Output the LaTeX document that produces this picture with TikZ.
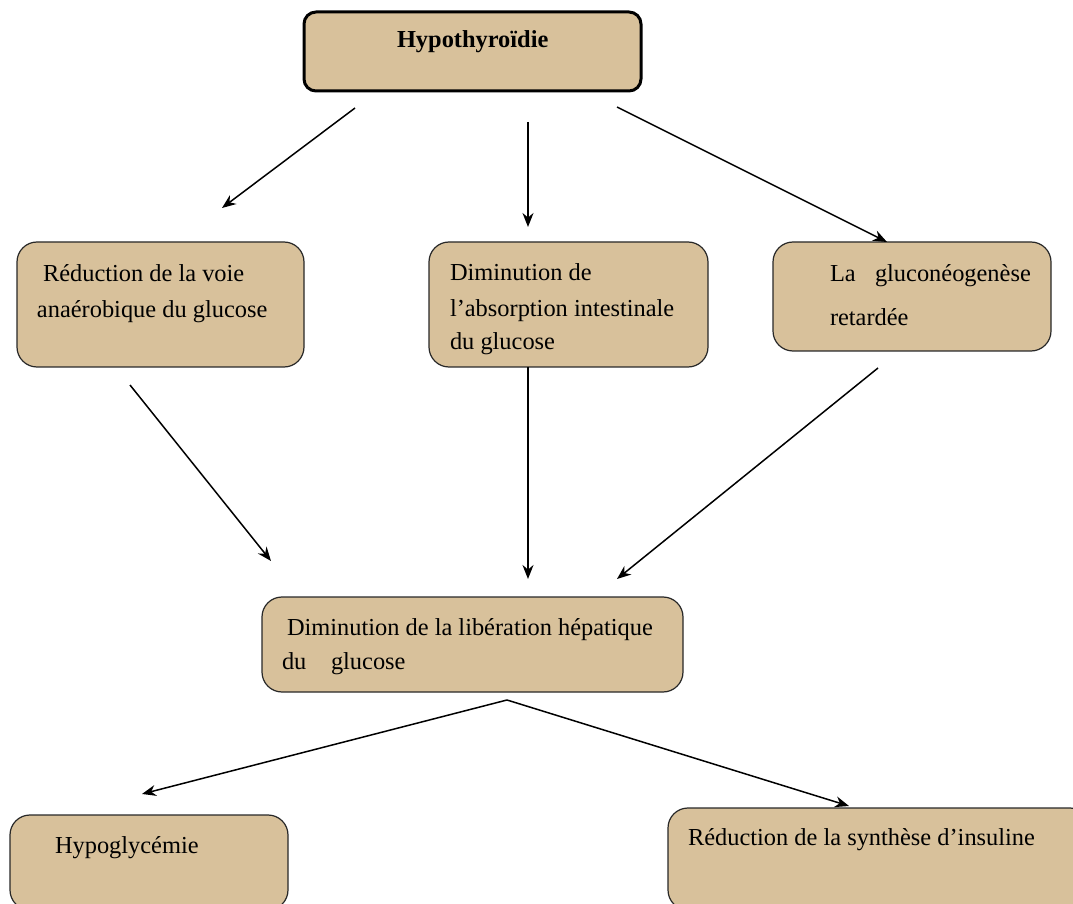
\documentclass[tikz,border=0pt]{standalone}
\usepackage{fontspec}
\setmainfont{Liberation Serif}
\usetikzlibrary{arrows.meta}
\definecolor{boxfill}{RGB}{216,193,155}
\definecolor{boxline}{RGB}{40,40,40}
\tikzset{
  box/.style={draw=boxline, line width=0.6pt, fill=boxfill, rounded corners=10pt, inner sep=0pt, outer sep=0pt},
  titlebox/.style={draw=black, line width=1.5pt, fill=boxfill, rounded corners=6pt, inner sep=0pt, outer sep=0pt},
  lbl/.style={anchor=base west, inner sep=0pt, outer sep=0pt, font=\fontsize{12.2pt}{14pt}\selectfont},
  conn/.style={line width=0.75pt, -{Stealth[length=7pt,width=5.5pt]}}
}
\begin{document}
\begin{tikzpicture}[x=0.5pt,y=-0.5pt]
\useasboundingbox (0,0) rectangle (1073,904);
\clip (0,0) rectangle (1073,904);
\fill[white] (0,0) rectangle (1073,904);
% boxes
\node[titlebox, minimum width=0.5pt*337, minimum height=0.5pt*79] (top) at (472.5,51.5) {};
\node[box, minimum width=0.5pt*287, minimum height=0.5pt*125] (A) at (160.5,304.5) {};
\node[box, minimum width=0.5pt*279, minimum height=0.5pt*125] (B) at (568.5,304.5) {};
\node[box, minimum width=0.5pt*278, minimum height=0.5pt*109] (C) at (912,296.5) {};
\node[box, minimum width=0.5pt*421, minimum height=0.5pt*95] (D) at (472.5,644.5) {};
\node[box, minimum width=0.5pt*278, minimum height=0.5pt*95] (E) at (149,862.5) {};
\node[box, minimum width=0.5pt*422, minimum height=0.5pt*102] (F) at (879,859) {};
% labels
\node[lbl, font=\fontsize{12.2pt}{14pt}\selectfont\bfseries] (tT) at (397,48) {Hypothyroïdie};
\node[lbl] (tA1) at (43,282) {Réduction de la voie};
\node[lbl] (tA2) at (37,318) {anaérobique du glucose};
\node[lbl] (tB1) at (450,281) {Diminution de};
\node[lbl] (tB2) at (450,316) {l’absorption intestinale};
\node[lbl] (tB3) at (450,350) {du glucose};
\node[lbl] (tC1) at (830,282) {La};
\node[lbl] (tC1b) at (875,282) {gluconéogenèse};
\node[lbl] (tC2) at (830,326) {retardée};
\node[lbl] (tD1) at (287,635) {Diminution de la libération hépatique};
\node[lbl] (tD2) at (282,669) {du};
\node[lbl] (tD2b) at (331,669) {glucose};
\node[lbl] (tE) at (55,853) {Hypoglycémie};
\node[lbl] (tF) at (688,845) {Réduction de la synthèse d’insuline};
% connector end points
\coordinate (s1) at (355,108); \coordinate (e1) at (222,208);
\coordinate (s2) at (528,122); \coordinate (e2) at (528,227);
\coordinate (s3) at (617,107); \coordinate (e3) at (887,242);
\coordinate (s4) at (130,385); \coordinate (e4) at (271,561);
\coordinate (s5) at (528,367); \coordinate (e5) at (528,579);
\coordinate (s6) at (878,368); \coordinate (e6) at (617,579);
\coordinate (s7) at (507,700); \coordinate (e7) at (142,794);
\coordinate (e8) at (849,806);
\draw[conn] (s1) -- (e1);
\draw[conn] (s2) -- (e2);
\draw[conn] (s3) -- (e3);
\draw[conn] (s4) -- (e4);
\draw[conn] (s5) -- (e5);
\draw[conn] (s6) -- (e6);
\draw[conn] (s7) -- (e7);
\draw[conn] (s7) -- (e8);
\end{tikzpicture}
\end{document}
